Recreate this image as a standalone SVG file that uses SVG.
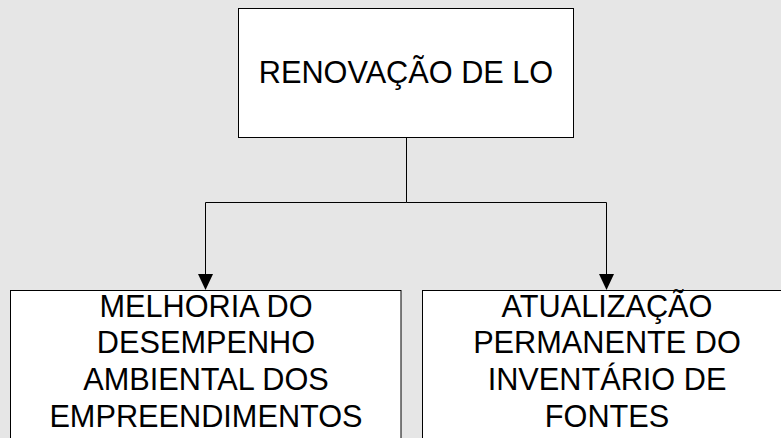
<svg xmlns="http://www.w3.org/2000/svg" width="781" height="438" viewBox="0 0 781 438">
<defs>
<style>
.box{fill:#ffffff;stroke:#000000;stroke-width:1}
.t{font-family:"Liberation Sans",Arial,sans-serif;font-size:30.7px;fill:#000000;text-anchor:middle}
.c{fill:none;stroke:#000000;stroke-width:1}
</style>
<marker id="arr" markerWidth="16" markerHeight="16" viewBox="0 0 16 16" refX="15" refY="8" orient="auto" markerUnits="userSpaceOnUse">
<path d="M0,0.5 L16,8 L0,15.5 Z" fill="#000000"/>
</marker>
</defs>
<rect width="781" height="438" fill="#e6e6e6"/>
<g id="connectors">
<path class="c" d="M406.5,137.5 V202.5 H205.5 V289" marker-end="url(#arr)"/>
<path class="c" d="M406.5,202.5 H606.5 V289" marker-end="url(#arr)"/>
</g>
<g id="renovacao">
<rect class="box" x="238.5" y="8.5" width="335" height="129"/>
<text class="t" x="406" y="83">RENOVAÇÃO DE LO</text>
</g>
<g id="melhoria">
<rect class="box" x="10.5" y="290.5" width="390.5" height="160"/>
<text class="t" x="206" y="316.5">MELHORIA DO</text>
<text class="t" x="206" y="353">DESEMPENHO</text>
<text class="t" x="206" y="389.5">AMBIENTAL DOS</text>
<text class="t" x="206" y="426.5">EMPREENDIMENTOS</text>
</g>
<g id="atualizacao">
<rect class="box" x="422.5" y="290.5" width="370" height="160"/>
<text class="t" x="607" y="316.5">ATUALIZAÇÃO</text>
<text class="t" x="607" y="353">PERMANENTE DO</text>
<text class="t" x="607" y="389.5">INVENTÁRIO DE</text>
<text class="t" x="607" y="426.5">FONTES</text>
</g>
</svg>
